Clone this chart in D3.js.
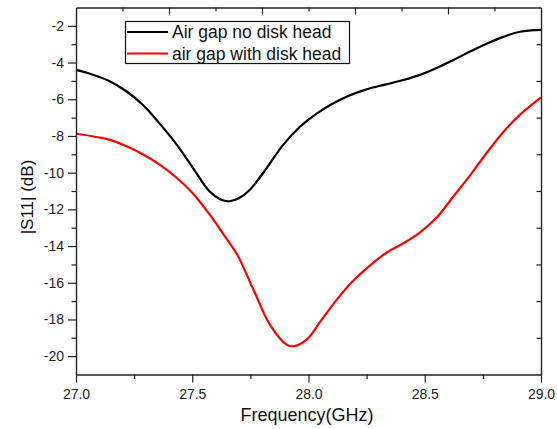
<!DOCTYPE html>
<html><head><meta charset="utf-8">
<script src="https://cdn.jsdelivr.net/npm/d3@7"></script>
<style>body{margin:0;background:#fff}svg{display:block}</style>
</head><body>
<svg id="chart" width="557" height="429"></svg>
<script>
const seriesNames = ["Air gap no disk head", "air gap with disk head"];
const seriesColors = ["#000000", "#ff0000"];
const freqNoHead = [27.0,27.07,27.143,27.215,27.287,27.358,27.43,27.502,27.573,27.62,27.66,27.70,27.748,27.82,27.89,27.963,28.035,28.107,28.178,28.25,28.33,28.408,28.48,28.551,28.623,28.695,28.766,28.838,28.91,29.0];
const s11NoHead = [-4.40,-4.65,-5.0,-5.55,-6.3,-7.3,-8.42,-9.72,-11.0,-11.45,-11.56,-11.40,-10.93,-9.75,-8.5,-7.5,-6.78,-6.22,-5.78,-5.46,-5.2,-4.95,-4.67,-4.30,-3.86,-3.40,-2.98,-2.6,-2.32,-2.22];
const freqWithHead = [27.0,27.143,27.215,27.287,27.358,27.43,27.502,27.573,27.645,27.695,27.763,27.834,27.906,27.935,27.992,28.049,28.12,28.19,28.265,28.337,28.408,28.48,28.551,28.623,28.695,28.766,28.838,28.91,29.0];
const s11WithHead = [-7.88,-8.2,-8.55,-9.0,-9.55,-10.25,-11.12,-12.25,-13.56,-14.5,-16.37,-18.28,-19.37,-19.46,-19.1,-18.15,-16.95,-15.92,-15.05,-14.35,-13.85,-13.25,-12.45,-11.3,-10.15,-8.93,-7.78,-6.84,-5.9];
const xTicks = [27.0,27.5,28.0,28.5,29.0];
const yTicks = [-2,-4,-6,-8,-10,-12,-14,-16,-18,-20];
const xLabel = "Frequency(GHz)";
const yLabel = "|S11| (dB)";

const svg = d3.select("#chart");
const L = 76, R = 541, T = 7.5, B = 374.5;
const x = d3.scaleLinear().domain([27, 29]).range([L, R]);
const y = d3.scaleLinear().domain([-21, -1]).range([B, T]);
const axisColor = "#222";
const font = "Arial, 'Liberation Sans', sans-serif";

// curves
const series = [
  {f: freqNoHead, v: s11NoHead},
  {f: freqWithHead, v: s11WithHead}
];
const line = d3.line().x(d => x(d[0])).y(d => y(d[1])).curve(d3.curveCatmullRom.alpha(0.5));
series.forEach((s, i) => {
  svg.append("path")
    .datum(s.f.map((f, k) => [f, s.v[k]]))
    .attr("d", line)
    .attr("fill", "none")
    .attr("stroke", seriesColors[i])
    .attr("stroke-width", 2.2)
    .attr("stroke-linejoin", "round");
});

// bottom axis
const gx = svg.append("g").attr("transform", `translate(0,${B})`)
  .call(d3.axisBottom(x).tickValues(xTicks).tickFormat(d3.format(".1f")).tickSize(8).tickSizeOuter(0));
svg.append("g").attr("transform", `translate(0,${B})`)
  .call(d3.axisBottom(x).tickValues(d3.range(27.25, 29, 0.5)).tickFormat("").tickSize(4.5).tickSizeOuter(0))
  .select(".domain").remove();
// left axis
const gy = svg.append("g").attr("transform", `translate(${L},0)`)
  .call(d3.axisLeft(y).tickValues(yTicks).tickFormat(d => String(d)).tickSize(8).tickSizeOuter(0));
svg.append("g").attr("transform", `translate(${L},0)`)
  .call(d3.axisLeft(y).tickValues(d3.range(-19, -1, 2)).tickFormat("").tickSize(4.5).tickSizeOuter(0))
  .select(".domain").remove();
// top axis (inward ticks)
svg.append("g").attr("transform", `translate(0,${T})`)
  .call(d3.axisTop(x).tickValues([27.4,27.8,28.2,28.6]).tickFormat("").tickSize(-7).tickSizeOuter(0));
svg.append("g").attr("transform", `translate(0,${T})`)
  .call(d3.axisTop(x).tickValues([27.2,27.6,28.0,28.4,28.8]).tickFormat("").tickSize(-4).tickSizeOuter(0))
  .select(".domain").remove();
// right axis (inward ticks)
svg.append("g").attr("transform", `translate(${R},0)`)
  .call(d3.axisRight(y).tickValues(d3.range(-19, -1, 2)).tickFormat("").tickSize(-4.5).tickSizeOuter(0));

svg.selectAll(".domain").attr("stroke", axisColor).attr("stroke-width", 1.4);
svg.selectAll(".tick line").attr("stroke", axisColor).attr("stroke-width", 1.2);
svg.selectAll(".tick text").attr("fill", "#222").style("font-family", font).style("font-size", "14px");
gx.selectAll(".tick text").attr("dy", "1.05em").attr("y", 10);
gy.selectAll(".tick text").attr("x", -12);

// axis titles
svg.append("text").attr("x", 307).attr("y", 421).attr("text-anchor", "middle")
  .style("font-family", font).style("font-size", "18px").attr("fill", "#111").text(xLabel);
svg.append("text").attr("transform", `translate(33,197) rotate(-90)`).attr("text-anchor", "middle")
  .style("font-family", font).style("font-size", "17px").attr("fill", "#111").text(yLabel);

// legend
const lg = svg.append("g");
lg.append("rect").attr("x", 125.5).attr("y", 21.5).attr("width", 224).attr("height", 42)
  .attr("fill", "#fff").attr("stroke", "#111").attr("stroke-width", 1.2);
seriesNames.forEach((n, i) => {
  const yy = 32 + i * 21.5;
  lg.append("line").attr("x1", 127).attr("x2", 168).attr("y1", yy).attr("y2", yy)
    .attr("stroke", seriesColors[i]).attr("stroke-width", 2.2);
  lg.append("text").attr("x", 172).attr("y", yy).attr("dy", "0.35em")
    .style("font-family", font).style("font-size", "17.5px").attr("fill", "#111").text(n);
});
</script>
</body></html>
